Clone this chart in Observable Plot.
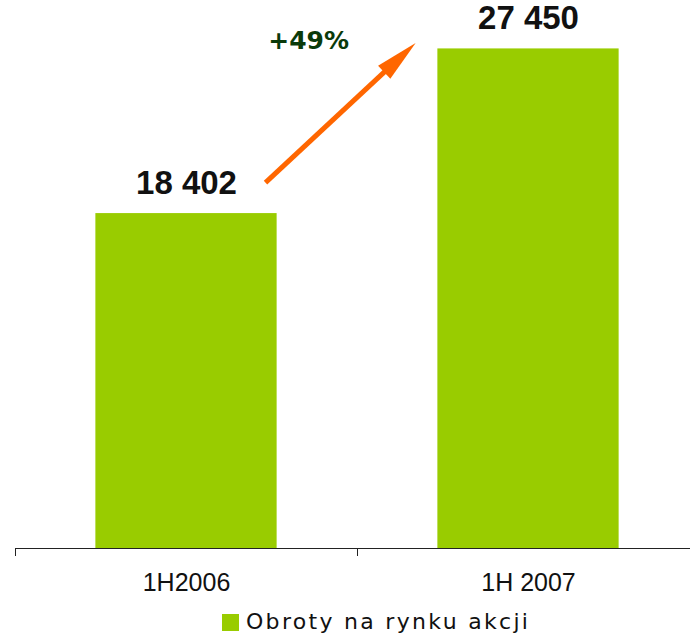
<!DOCTYPE html>
<html>
<head>
<meta charset="utf-8">
<script src="https://cdn.jsdelivr.net/npm/d3@7"></script>
<script src="https://cdn.jsdelivr.net/npm/@observablehq/plot@0.6"></script>
<style>
  html, body { margin: 0; padding: 0; background: #fff; }
  #chart svg { display: block; }
  .legend { position: relative; height: 34px; width: 690px; font-family: "DejaVu Sans", Verdana, sans-serif; font-size: 22px; letter-spacing: 2.3px; color: #111; }
  .legend .sw { position: absolute; left: 222px; top: 14px; width: 17px; height: 17px; background: #99CC00; }
  .legend .lbl { position: absolute; left: 246px; top: 9px; white-space: nowrap; line-height: 1.16; }
</style>
</head>
<body>
<div id="chart"></div>
<div class="legend"><span class="sw"></span><span class="lbl" id="legendLabel"></span></div>
<script>
// Data
const categories = ["1H2006", "1H 2007"];
const values = [18402, 27450];
const seriesName = "Obroty na rynku akcji";
const valueLabels = ["18 402", "27 450"];
// Growth annotation (in chart units: x = category position, y = value)
const growthLabel = "+49%";
const growthLabelPos = [0.857, 27900];
const arrowStart = [0.731, 20100];
const arrowTip = [1.17, 27780];

const data = categories.map((c, i) => ({i, category: c, value: values[i], label: valueLabels[i]}));
const pad = 0.235;

const headShape = {
  draw(ctx) {
    ctx.moveTo(0, 0);
    ctx.lineTo(9, 43);
    ctx.lineTo(-9, 43);
    ctx.closePath();
  }
};

const plot = Plot.plot({
  width: 690,
  height: 600,
  marginTop: 2,
  marginBottom: 52,
  marginLeft: 15,
  marginRight: 0,
  style: {fontFamily: "'Liberation Sans', Arial, sans-serif", background: "#fff"},
  x: {type: "linear", domain: [0, 2], range: [15, 699], axis: null},
  y: {domain: [0, 30000], axis: null},
  marks: [
    Plot.rect(data, {x1: d => d.i + pad, x2: d => d.i + 1 - pad, y1: 0, y2: "value", fill: "#99CC00"}),
    Plot.ruleY([0], {stroke: "#222", strokeWidth: 1}),
    Plot.axisX({ticks: [0, 1, 2], tickFormat: () => "", tickSize: 8, stroke: "#222", anchor: "bottom"}),
    Plot.text(data, {x: d => d.i + 0.5, y: 0, text: "category", dy: 34, fontSize: 25, fill: "#111", lineAnchor: "middle"}),
    Plot.text(data, {x: d => d.i + 0.5, y: "value", text: "label", dy: -30, fontSize: 33, fontWeight: "bold", fill: "#111", lineAnchor: "middle"}),
    Plot.arrow([{}], {x1: () => arrowStart[0], y1: () => arrowStart[1], x2: () => arrowTip[0], y2: () => arrowTip[1], stroke: "#FF6600", strokeWidth: 5, headLength: 0, insetEnd: 22, strokeLinecap: "butt"}),
    Plot.dot([{}], {x: () => arrowTip[0], y: () => arrowTip[1], symbol: headShape, fill: "#FF6600", stroke: "none", rotate: 47}),
    Plot.text([growthLabel], {x: () => growthLabelPos[0], y: () => growthLabelPos[1], text: d => d, fontSize: 25, fontWeight: "bold", fill: "#0a3a0a", fontFamily: "'DejaVu Sans', Verdana, sans-serif", lineAnchor: "middle"})
  ]
});
document.getElementById("chart").appendChild(plot);
document.getElementById("legendLabel").textContent = seriesName;
</script>
</body>
</html>
